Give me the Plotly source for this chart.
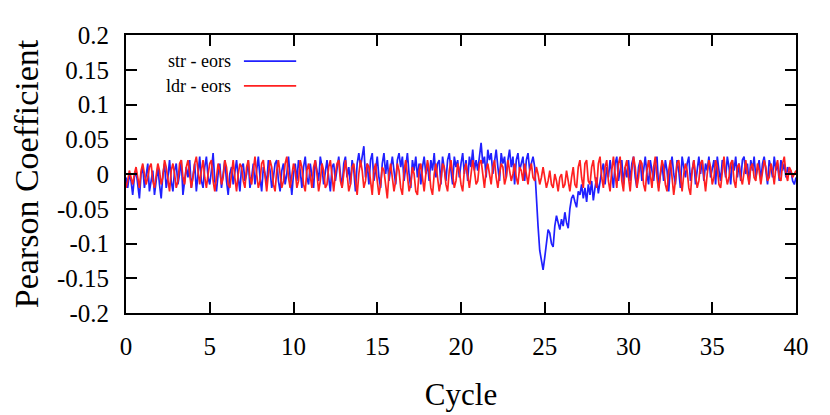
import numpy as np
import plotly.graph_objects as go

# x: cycle, step 0.1 from 0 to 40
cycle = [round(i * 0.1, 1) for i in range(401)]

# values in units of 0.001
str_eors_milli = [
    -5, -20, 0, -10, -30, -5, 5, -15, -35, 0,
    10, -20, -5, 15, -25, -10, 5, -30, -10, 10,
    -15, -35, 0, 15, -20, -5, 20, -10, -25, 5,
    15, -15, 0, 20, -30, -10, 10, -5, 20, -20,
    -5, 15, -25, 0, 25, -10, -20, 10, 25, -5,
    -15, 5, 30, -10, -25, 0, 15, -20, 5, 20,
    -10, -30, 0, 10, -15, 5, 20, -5, -25, 10,
    15, -10, 0, 20, -20, -5, 15, -15, 5, 25,
    -5, -25, 10, 0, -15, 20, 5, -20, -5, 15,
    20, -10, -25, 5, 15, -15, 0, 25, -5, -30,
    0, 15, -10, 20, 5, -20, 10, 25, -5, -15,
    15, 0, -20, 20, 5, -10, 25, 10, -15, 5,
    20, -5, -25, 10, 15, -10, 5, 25, 0, -20,
    15, 25, -5, 10, -15, 20, 5, -25, 15, 30,
    10, 25, 40, -5, 15, -15, 20, 30, -10, 5,
    25, -5, -20, 15, 30, 0, 20, -10, 10, 25,
    5, -15, 20, 30, 10, 25, -10, 15, 30, 0,
    -20, 20, 5, 25, -5, 15, -15, 10, 25, 0,
    15, -10, 20, 5, 30, -5, 15, 20, -15, 25,
    10, -10, 20, 30, 5, -15, 25, 10, 20, -5,
    15, 30, 0, 20, -10, 25, 10, 35, 5, 20,
    5, 30, 45, 15, 25, -5, 35, 20, 30, 0,
    20, 35, 10, -10, 30, 15, 25, -5, 20, 35,
    10, 25, -15, 20, 30, 5, 15, 25, -10, 20,
    30, 5, 15, 25, 10, -40, -75, -110, -125, -138,
    -120, -95, -80, -85, -100, -105, -75, -60, -70, -80,
    -65, -75, -55, -70, -78, -50, -35, -30, -40, -48,
    -25, -30, -15, -35, -20, -40, -15, -30, -10, -38,
    -20, -5, -28, -10, 5, 15, -15, 10, -5, 20,
    0, -20, 15, 25, -10, 5, 20, -15, 10, -5,
    20, -10, 15, 25, -5, -20, 10, 20, -10, 5,
    25, 0, -15, 20, 5, -10, 15, 25, -20, 0,
    15, -10, 20, 5, -25, 10, 25, 0, -15, 20,
    5, -20, 25, 10, -5, 15, 25, -10, 5, 20,
    -15, 10, 25, 0, 20, -10, 15, 5, 25, -5,
    10, 20, -15, 25, 5, -10, 20, 15, -5, 25,
    10, -15, 20, 5, 25, -5, 15, -10, 20, 25,
    0, 15, -15, 20, 5, 25, -5, 10, 20, -10,
    15, 25, 0, -15, 20, 10, -5, 25, 5, 15,
    -10, 20, 5, 15, -5, 10, 0, 5, -10, -15,
    -5,
]

ldr_eors_milli = [
    -20, -10, 5, -5, -15, 0, 10, -5, -20, 5,
    15, 0, -15, -5, 10, 15, -10, -20, 0, 15,
    5, -15, -5, 20, 10, -10, -25, 5, 15, 0,
    -20, -10, 15, 20, -5, -15, 10, 20, 0, -20,
    -5, 15, 25, 0, -15, 5, 20, -5, -20, 0,
    15, 20, -10, -25, 0, 15, 5, -15, -5, 20,
    10, -15, -20, 5, 20, -5, -25, 0, 15, 10,
    -10, -20, 10, 20, -5, -15, 5, 25, 0, -20,
    -10, 15, 20, -5, -25, 0, 20, 10, -15, -25,
    5, 20, 0, -20, -10, 15, 25, -5, -20, 0,
    15, 5, -20, -10, 20, 10, -15, -25, 5, 15,
    -5, -20, 10, 20, 0, -25, -10, 15, 5, -20,
    -15, 10, 20, -5, -25, 0, 15, 20, -10, -20,
    5, 20, 0, -25, -15, 10, 15, -10, -30, 0,
    20, 5, -20, -10, 15, 10, -15, -30, 5, 15,
    -10, -30, -15, 10, 5, -20, -35, 0, 15, -5,
    -25, -10, 15, 5, -20, -30, 5, 20, -5, -25,
    -15, 10, 0, -25, -30, 5, 15, -10, -25, 0,
    20, 5, -20, -30, 0, 15, -5, -25, -10, 15,
    10, -15, -25, 5, 20, 0, -20, -10, 15, 5,
    -15, -25, 5, 15, -5, -20, 0, 20, 5, -15,
    -10, 15, 20, -5, -20, 5, 15, 0, -15, 10,
    20, -5, -20, 0, 15, 10, -15, -5, 20, 5,
    -10, 0, 15, -5, -15, 10, 5, -10, 15, 0,
    -15, 5, 15, -5, -10, 10, 0, -15, -5, 10,
    -5, -20, -10, 5, -15, -20, 0, -10, -25, -5,
    0, -20, -15, 5, -10, -25, -5, 10, -15, -20,
    10, 20, -5, -20, 15, 20, -10, -15, 10, 20,
    -5, -20, 15, 25, -5, -20, 10, 20, -10, -25,
    5, 25, 0, -20, 15, 25, -10, -25, 10, 20,
    -5, -25, 5, 25, 10, -20, -5, 20, 15, -15,
    -25, 5, 20, 0, -20, 10, 25, -5, -25, 0,
    20, 10, -15, -25, 5, 20, -5, -30, -10, 15,
    20, -5, -25, 0, 15, 5, -20, -30, 5, 20,
    0, -20, -10, 15, 20, -5, -25, 0, 20, 10,
    -15, -5, 20, 10, -15, -20, 5, 25, 0, -15,
    -5, 15, 20, -10, -20, 10, 15, -5, -15, 5,
    20, 0, -15, 10, 15, -5, -10, 15, 5, -15,
    0, 20, 10, -10, -5, 15, 5, -15, 10, 20,
    -5, -10, 15, 25, 0, -10, 10, 5, -5, 0,
    5,
]

str_eors = [v / 1000 for v in str_eors_milli]
ldr_eors = [v / 1000 for v in ldr_eors_milli]

series_names = ["str - eors", "ldr - eors"]
series_colors = ["#2020ff", "#ff2020"]

x_tickvals = [0, 5, 10, 15, 20, 25, 30, 35, 40]
x_ticktext = ["0", "5", "10", "15", "20", "25", "30", "35", "40"]
y_tickvals = [-0.2, -0.15, -0.1, -0.05, 0, 0.05, 0.1, 0.15, 0.2]
y_ticktext = ["-0.2", "-0.15", "-0.1", "-0.05", "0", "0.05", "0.1", "0.15", "0.2"]

FONT = "Liberation Serif, Times New Roman, serif"

fig = go.Figure()
fig.add_trace(go.Scatter(x=cycle, y=str_eors, mode="lines", name=series_names[0],
                         line=dict(color=series_colors[0], width=1.7)))
fig.add_trace(go.Scatter(x=cycle, y=ldr_eors, mode="lines", name=series_names[1],
                         line=dict(color=series_colors[1], width=1.7)))

axis_common = dict(
    showline=True, linecolor="black", linewidth=2, mirror="ticks",
    ticks="inside", ticklen=11, tickwidth=1.5, tickcolor="black",
    showgrid=False, zeroline=False, ticklabelstandoff=10,
    tickfont=dict(family=FONT, size=25, color="black"),
)

fig.update_xaxes(range=[0, 40], tickvals=x_tickvals, ticktext=x_ticktext,
                 title=dict(text="Cycle", font=dict(family=FONT, size=31, color="black"), standoff=24),
                 **axis_common)
fig.update_yaxes(range=[-0.2, 0.2], tickvals=y_tickvals, ticktext=y_ticktext,
                 title=dict(text="Pearson Coefficient", font=dict(family=FONT, size=34, color="black"), standoff=8),
                 **axis_common)

# gnuplot-style legend: text left of the line sample
leg_y = [0.906, 0.817]
for name, color, yy in zip(series_names, series_colors, leg_y):
    fig.add_annotation(xref="paper", yref="paper", x=0.160, y=yy, text=name,
                       showarrow=False, xanchor="right", yanchor="middle",
                       font=dict(family=FONT, size=18, color="black"))
    fig.add_shape(type="line", xref="paper", yref="paper", x0=0.176, x1=0.254, y0=yy, y1=yy,
                  line=dict(color=color, width=1.7))

# margins compensate for the page's 8px body margin
fig.update_layout(
    width=830, height=415,
    margin=dict(l=118, r=42, t=27, b=110),
    paper_bgcolor="white", plot_bgcolor="white",
    showlegend=False,
    font=dict(family=FONT, color="black"),
)

fig.write_html("out.html")
